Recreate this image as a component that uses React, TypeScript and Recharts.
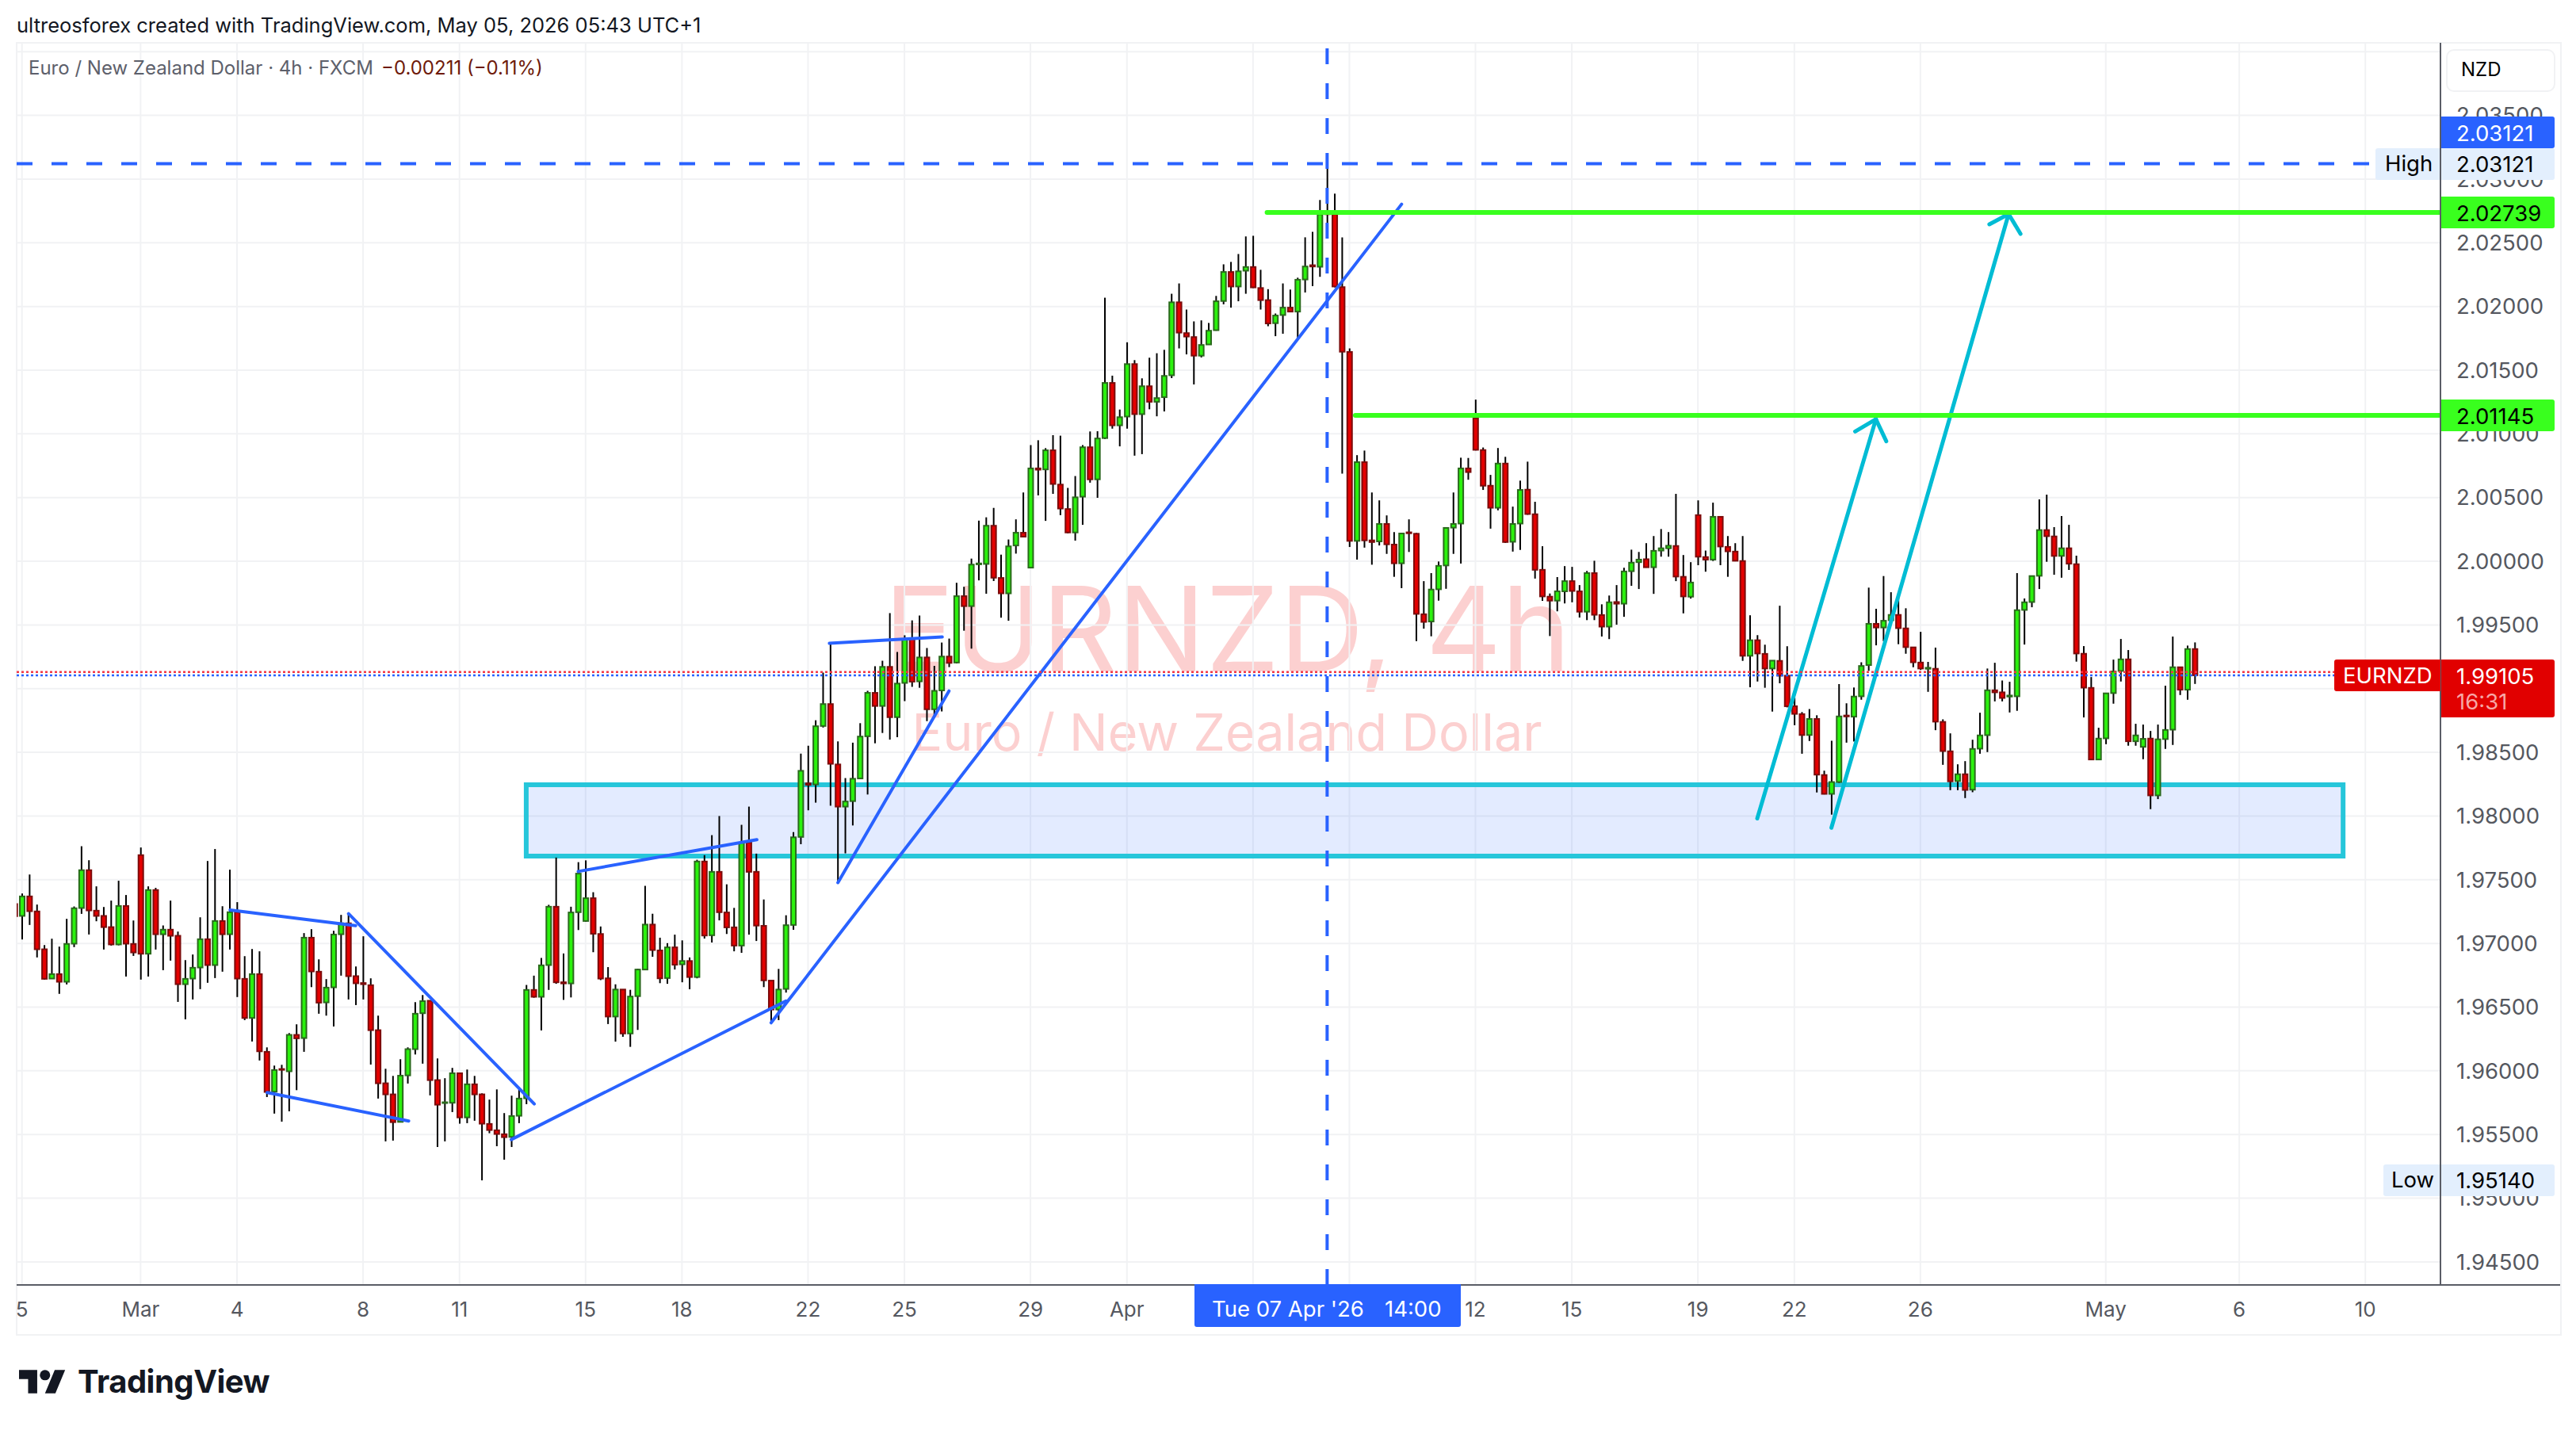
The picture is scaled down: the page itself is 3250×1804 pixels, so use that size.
import React from 'react';
import {
  BarChart,
  Bar,
  XAxis,
  YAxis,
  CartesianGrid,
  ReferenceLine,
  ReferenceArea,
} from 'recharts';

// EURNZD 4h candles
const opens = [
  1.97309,1.97216,1.97369,1.97251,1.96954,1.96724,1.96759,1.96699,1.96998,1.97278,
  1.97575,1.97257,1.97216,1.97128,1.96992,1.97294,1.96996,1.97693,1.96919,1.97419,
  1.97072,1.97108,1.97060,1.96680,1.96724,1.96811,1.97033,1.96830,1.97176,1.97072,
  1.97245,1.96722,1.96415,1.96759,1.96149,1.95836,1.96014,1.95996,1.96282,1.96257,
  1.97045,1.96778,1.96537,1.96655,1.97072,1.97158,1.96743,1.96689,1.96672,1.96319,
  1.95902,1.95815,1.95599,1.95964,1.96170,1.96452,1.96550,1.95927,1.95747,1.95749,
  1.95981,1.95634,1.95894,1.95815,1.95583,1.95533,1.95502,1.95481,1.95647,1.95784,
  1.96635,1.96581,1.96830,1.97288,1.96695,1.96686,1.97245,1.97176,1.97355,1.97074,
  1.96726,1.96426,1.96638,1.96293,1.96586,1.96795,1.97148,1.96945,1.96728,1.96969,
  1.96836,1.96862,1.96736,1.97643,1.97064,1.97562,1.97243,1.97126,1.96983,1.97793,
  1.97562,1.97138,1.96708,1.96481,1.96643,1.97145,1.97836,1.98257,1.98248,1.98707,
  1.98879,1.98405,1.98074,1.98117,1.98295,1.98626,1.98967,1.98864,1.99171,1.98776,
  1.99045,1.99390,1.99057,1.99245,1.98838,1.98986,1.99252,1.99205,1.99726,1.99648,
  1.99976,1.99979,2.00279,1.99869,1.99748,2.00124,2.00224,1.99950,2.00729,2.00721,
  2.00871,2.00602,2.00410,2.00226,2.00507,2.00895,2.00643,2.00967,2.01400,2.01067,
  2.01136,2.01548,2.01155,2.01374,2.01252,2.01288,2.01460,2.02033,2.01791,2.01760,
  2.01614,2.01702,2.01814,2.02043,2.02271,2.02157,2.02281,2.02310,2.02145,2.02050,
  2.01869,2.01933,2.01991,2.01960,2.02212,2.02324,2.02312,2.02733,2.02724,2.02152,
  2.01643,2.00160,2.00778,2.00164,2.00156,2.00293,2.00131,1.99984,2.00227,2.00216,
  1.99584,1.99527,1.99780,1.99967,2.00264,2.00296,2.00729,2.01122,2.00873,2.00593,
  2.00420,2.00767,2.00153,2.00296,2.00562,2.00369,1.99933,1.99722,1.99691,1.99764,
  1.99844,1.99764,1.99604,1.99907,1.99578,1.99487,1.99680,1.99667,1.99922,1.99993,
  2.00016,1.99953,2.00084,2.00102,2.00120,1.99878,1.99722,2.00362,2.00033,2.00013,
  2.00349,2.00113,2.00076,2.00002,1.99258,1.99380,1.99273,1.99158,1.99218,1.99102,
  1.98862,1.98800,1.98636,1.98762,1.98322,1.98174,1.98267,1.98789,1.98780,1.98940,
  1.99185,1.99509,1.99480,1.99537,1.99579,1.99473,1.99324,1.99205,1.99156,1.99156,
  1.98739,1.98508,1.98274,1.98328,1.98207,1.98529,1.98635,1.98987,1.98971,1.98938,
  1.98940,1.99618,1.99680,1.99886,2.00245,2.00195,2.00042,2.00102,1.99977,1.99274,
  1.99006,1.98444,1.98610,1.98965,1.99139,1.99230,1.98587,1.98543,1.98608,1.98162,
  1.98604,1.98678,1.99168,1.98992,1.99311,
];
const highs = [
  1.97350,1.97392,1.97541,1.97305,1.96987,1.97037,1.96975,1.97193,1.97290,1.97763,
  1.97653,1.97448,1.97286,1.97336,1.97492,1.97380,1.97180,1.97753,1.97448,1.97436,
  1.97141,1.97336,1.97093,1.96869,1.96913,1.97205,1.97647,1.97741,1.97292,1.97579,
  1.97324,1.96900,1.96956,1.96938,1.96184,1.96041,1.96047,1.96296,1.96365,1.97081,
  1.97112,1.96875,1.96720,1.97099,1.97224,1.97234,1.96819,1.97056,1.96726,1.96433,
  1.96016,1.95960,1.96091,1.96184,1.96539,1.96595,1.96550,1.96097,1.95942,1.96023,
  1.95983,1.96010,1.95960,1.95823,1.95774,1.95854,1.95668,1.95805,1.95873,1.96674,
  1.96747,1.96886,1.97303,1.97674,1.96921,1.97288,1.97638,1.97652,1.97402,1.97133,
  1.96814,1.96679,1.96640,1.96636,1.96802,1.97452,1.97233,1.97045,1.97002,1.97069,
  1.97024,1.96890,1.97657,1.97693,1.97850,1.98000,1.97464,1.97279,1.97931,1.98074,
  1.97705,1.97345,1.96708,1.96800,1.97221,1.97874,1.98490,1.98552,1.98752,1.99126,
  1.99352,1.98586,1.98298,1.98576,1.98729,1.98983,1.99176,1.99219,1.99593,1.99288,
  1.99419,1.99536,1.99574,1.99319,1.99179,1.99362,1.99393,1.99831,1.99800,2.00021,
  2.00319,2.00345,2.00419,2.00052,2.00171,2.00329,2.00540,2.00912,2.00950,2.00888,
  2.00990,2.00986,2.00576,2.00669,2.00912,2.01019,2.01021,2.02069,2.01457,2.01191,
  2.01719,2.01579,2.01436,2.01598,2.01633,2.01660,2.02100,2.02181,2.01976,2.01883,
  2.01891,2.01871,2.02083,2.02331,2.02350,2.02412,2.02550,2.02555,2.02288,2.02136,
  2.01945,2.02181,2.02133,2.02226,2.02543,2.02586,2.02836,2.03121,2.02886,2.02543,
  2.01671,2.00833,2.00869,2.00540,2.00478,2.00360,2.00229,2.00220,2.00329,2.00222,
  1.99844,1.99907,1.99998,2.00264,2.00540,2.00813,2.00811,2.01269,2.00893,2.00678,
  2.00889,2.00820,2.00429,2.00633,2.00782,2.00467,2.00118,1.99747,1.99876,1.99962,
  1.99956,1.99813,1.99924,2.00004,1.99662,1.99731,1.99813,1.99949,2.00091,2.00073,
  2.00142,2.00198,2.00253,2.00229,2.00529,2.00049,1.99993,2.00478,2.00084,2.00460,
  2.00351,2.00198,2.00142,2.00198,1.99576,1.99420,1.99345,1.99222,1.99651,1.99333,
  1.98929,1.98816,1.98840,1.98791,1.98356,1.98591,1.99036,1.98885,1.99009,1.99207,
  1.99793,1.99627,1.99884,1.99757,1.99712,1.99631,1.99324,1.99446,1.99210,1.99322,
  1.98759,1.98649,1.98406,1.98431,1.98599,1.98811,1.99158,1.99203,1.99064,1.99054,
  1.99907,1.99708,1.99884,2.00486,2.00523,2.00268,2.00355,2.00286,2.00044,1.99334,
  1.99091,1.98693,1.98965,1.99228,1.99390,1.99303,1.98724,1.98718,1.98668,1.98718,
  1.99023,1.99409,1.99168,1.99338,1.99363,
];
const lows = [
  1.97180,1.97031,1.97145,1.96890,1.96716,1.96722,1.96604,1.96678,1.96971,1.97232,
  1.97070,1.97174,1.96952,1.96983,1.96985,1.96740,1.96902,1.96716,1.96740,1.96952,
  1.96790,1.96865,1.96541,1.96404,1.96560,1.96641,1.96691,1.96728,1.96778,1.96952,
  1.96579,1.96398,1.96230,1.96081,1.95794,1.95664,1.95601,1.95682,1.95848,1.96149,
  1.96657,1.96448,1.96433,1.96348,1.96747,1.96560,1.96516,1.96560,1.96049,1.95782,
  1.95446,1.95452,1.95595,1.95900,1.96128,1.96056,1.95807,1.95402,1.95446,1.95676,
  1.95585,1.95589,1.95608,1.95140,1.95510,1.95408,1.95302,1.95402,1.95589,1.95738,
  1.96574,1.96317,1.96635,1.96683,1.96557,1.96576,1.97105,1.97170,1.96931,1.96712,
  1.96367,1.96229,1.96267,1.96188,1.96321,1.96790,1.96895,1.96688,1.96683,1.96795,
  1.96695,1.96640,1.96726,1.97038,1.97007,1.97181,1.97074,1.96938,1.96926,1.97069,
  1.97019,1.96657,1.96379,1.96398,1.96614,1.97107,1.97779,1.98045,1.98105,1.98695,
  1.98081,1.97474,1.97707,1.97926,1.98290,1.98169,1.98571,1.98652,1.98600,1.98619,
  1.98902,1.99014,1.99007,1.98745,1.98790,1.98821,1.99169,1.99198,1.99455,1.99314,
  1.99850,1.99745,1.99845,1.99557,1.99533,2.00060,2.00190,1.99945,2.00517,2.00317,
  2.00529,2.00362,2.00220,2.00162,2.00286,2.00617,2.00498,2.00960,2.01041,2.00902,
  2.01041,2.00829,2.00841,2.01193,2.01138,2.01176,2.01438,2.01671,2.01624,2.01388,
  2.01600,2.01700,2.01810,2.02017,2.01991,2.02041,2.02100,2.02145,2.01976,2.01845,
  2.01767,2.01786,2.01955,2.01741,2.02110,2.02160,2.02233,2.02657,2.02150,2.00688,
  2.00112,2.00013,2.00107,1.99973,2.00124,2.00058,1.99878,1.99789,2.00073,1.99373,
  1.99471,1.99411,1.99691,1.99784,2.00058,1.99982,2.00640,2.00870,2.00560,2.00256,
  2.00400,2.00144,2.00076,2.00089,2.00365,1.99864,1.99689,1.99413,1.99607,1.99669,
  1.99678,1.99558,1.99538,1.99538,1.99409,1.99389,1.99502,1.99564,1.99807,1.99782,
  1.99950,1.99744,2.00036,2.00036,1.99844,1.99591,1.99707,1.99969,1.99918,2.00002,
  1.99969,1.99878,2.00000,1.99218,1.99011,1.99056,1.99007,1.98820,1.99042,1.98853,
  1.98713,1.98489,1.98589,1.98185,1.98170,1.98011,1.98260,1.98576,1.98585,1.98913,
  1.99140,1.99340,1.99373,1.99508,1.99349,1.99274,1.99168,1.99147,1.98975,1.98674,
  1.98402,1.98203,1.98203,1.98141,1.98187,1.98489,1.98502,1.98900,1.98900,1.98813,
  1.98826,1.99346,1.99639,1.99782,1.99996,1.99894,1.99871,1.99932,1.99212,1.98774,
  1.98440,1.98440,1.98564,1.98882,1.99056,1.98552,1.98552,1.98446,1.98054,1.98133,
  1.98527,1.98558,1.98950,1.98913,1.99037,
];
const closes = [
  1.97214,1.97369,1.97253,1.96954,1.96722,1.96759,1.96699,1.96996,1.97276,1.97575,
  1.97259,1.97216,1.97128,1.96992,1.97294,1.96998,1.96929,1.96919,1.97419,1.97072,
  1.97108,1.97060,1.96680,1.96722,1.96809,1.97033,1.96830,1.97176,1.97072,1.97245,
  1.96724,1.96415,1.96759,1.96153,1.95834,1.96006,1.96008,1.96282,1.96255,1.97045,
  1.96780,1.96535,1.96653,1.97070,1.97158,1.96743,1.96687,1.96680,1.96319,1.95902,
  1.95815,1.95597,1.95962,1.96170,1.96448,1.96547,1.95927,1.95734,1.95753,1.95981,
  1.95634,1.95894,1.95815,1.95585,1.95535,1.95504,1.95479,1.95645,1.95782,1.96635,
  1.96581,1.96828,1.97288,1.96695,1.96686,1.97243,1.97548,1.97355,1.97076,1.96724,
  1.96426,1.96638,1.96293,1.96583,1.96795,1.97148,1.96948,1.96726,1.96969,1.96833,
  1.96862,1.96736,1.97643,1.97062,1.97562,1.97245,1.97126,1.96983,1.97790,1.97562,
  1.97140,1.96710,1.96481,1.96638,1.97143,1.97833,1.98355,1.98245,1.98705,1.98879,
  1.98410,1.98074,1.98114,1.98293,1.98624,1.98967,1.98864,1.99171,1.98776,1.99040,
  1.99388,1.99055,1.99245,1.98838,1.98983,1.99252,1.99202,1.99726,1.99648,1.99974,
  1.99983,2.00279,1.99871,1.99748,2.00117,2.00224,2.00193,2.00729,2.00719,2.00871,
  2.00607,2.00414,2.00226,2.00502,2.00895,2.00643,2.00964,2.01400,2.01067,2.01131,
  2.01548,2.01155,2.01374,2.01252,2.01281,2.01455,2.02033,2.01795,2.01764,2.01614,
  2.01698,2.01810,2.02041,2.02271,2.02157,2.02276,2.02310,2.02150,2.02050,2.01867,
  2.01929,2.01991,2.01960,2.02210,2.02314,2.02314,2.02724,2.02724,2.02157,2.01645,
  2.00160,2.00778,2.00164,2.00151,2.00293,2.00133,1.99984,2.00218,2.00220,1.99587,
  1.99524,1.99778,1.99964,2.00262,2.00293,2.00729,2.00700,2.00875,2.00593,2.00420,
  2.00767,2.00151,2.00293,2.00560,2.00371,1.99933,1.99724,1.99691,1.99764,1.99844,
  1.99767,1.99604,1.99907,1.99580,1.99487,1.99678,1.99667,1.99920,1.99989,2.00013,
  1.99953,2.00082,2.00102,2.00122,1.99880,1.99724,1.99833,2.00036,2.00013,2.00349,
  2.00116,2.00078,2.00004,1.99258,1.99380,1.99276,1.99158,1.99220,1.99102,1.98862,
  1.98802,1.98636,1.98762,1.98325,1.98174,1.98267,1.98782,1.98782,1.98938,1.99178,
  1.99509,1.99480,1.99533,1.99579,1.99475,1.99326,1.99207,1.99158,1.99164,1.98741,
  1.98510,1.98272,1.98328,1.98205,1.98527,1.98633,1.98987,1.98971,1.98927,1.98946,
  1.99616,1.99678,1.99884,2.00245,2.00197,2.00042,2.00102,1.99981,1.99276,1.99008,
  1.98444,1.98608,1.98963,1.99135,1.99230,1.98587,1.98633,1.98606,1.98162,1.98602,
  1.98676,1.99168,1.98992,1.99311,1.99105,
];

// date ticks sit on bar numbers; two of them are covered by the crosshair label
const xTickBars = [1, 17, 30, 47, 60, 77, 90, 107, 120, 137, 150, 167, 180, 197, 210, 227, 240, 257, 282, 300, 317];
const xTickLabels = ['5', 'Mar', '4', '8', '11', '15', '18', '22', '25', '29', 'Apr', '', '', '12', '15', '19', '22', '26', 'May', '6', '10'];
const priceTicks = [
  1.945, 1.95, 1.955, 1.96, 1.965, 1.97, 1.975, 1.98, 1.985, 1.99, 1.995, 2.0, 2.005, 2.01, 2.015, 2.02, 2.025, 2.03, 2.035, 2.04,
];

// drawings as [bar, price, bar, price]
const blueLines = [
  [29.06, 1.97263, 46.0, 1.9714],
  [45.04, 1.97233, 70.08, 1.9574],
  [34.06, 1.9583, 53.15, 1.95606],
  [66.98, 1.9546, 104.02, 1.96548],
  [102.02, 1.96377, 187.04, 2.02803],
  [111.03, 1.97477, 126.01, 1.98982],
  [109.88, 1.99356, 125.1, 1.99406],
  [76.01, 1.97565, 100.1, 1.97815],
];
const arrowLines = [
  [235, 1.97981, 251, 2.01115],
  [248.2, 2.01019, 251, 2.01115],
  [252.4, 2.00942, 251, 2.01115],
  [245, 1.97908, 268.9, 2.02726],
  [266.3, 2.02645, 268.9, 2.02726],
  [270.5, 2.0257, 268.9, 2.02726],
];
const greenLines = [
  [168.9, 2.02739, 327.13, 2.02739],
  [180.8, 2.01145, 327.13, 2.01145],
];
const zone = { x1: 69, x2: 314, y1: 1.97686, y2: 1.98246 };

const candles = opens.map((open, i) => ({
  bar: i,
  open,
  high: highs[i],
  low: lows[i],
  close: closes[i],
  range: [lows[i], highs[i]],
}));

const font = 'Inter, sans-serif';
const BLUE = '#2962ff';

function Candle(props: any) {
  const { x, y, width, height, payload } = props;
  const { open, close, high, low } = payload;
  const perUnit = height / (high - low);
  const cx = x + width / 2;
  const top = y + (high - Math.max(open, close)) * perUnit;
  const bottom = y + (high - Math.min(open, close)) * perUnit;
  const up = close >= open;
  return (
    <g>
      <line x1={cx} x2={cx} y1={y} y2={y + height} stroke="#000" strokeWidth={2} />
      <rect
        x={cx - 3}
        y={top}
        width={6}
        height={Math.max(bottom - top, 1)}
        fill={up ? '#2bf20d' : '#e40000'}
        stroke={up ? '#2a6a1c' : '#7c0b0b'}
        strokeWidth={2}
      />
    </g>
  );
}

function Seg(pts: number[], key: string, stroke: string, width: number) {
  return (
    <ReferenceLine
      key={key}
      segment={[
        { x: pts[0], y: pts[1] },
        { x: pts[2], y: pts[3] },
      ]}
      stroke={stroke}
      strokeWidth={width}
      strokeLinecap="round"
    />
  );
}

function Tag(props: any) {
  const { left, top, width, height = 40, bg, color = '#000', children, radius = 3 } = props;
  return (
    <div
      style={{
        position: 'absolute',
        left,
        top,
        width,
        height,
        background: bg,
        color,
        borderRadius: `0 ${radius}px ${radius}px 0`,
      }}
    >
      {children}
    </div>
  );
}

function Txt(props: any) {
  const { left, top, color = '#000', size = 27.5, children, style } = props;
  return (
    <span
      style={{
        position: 'absolute',
        left,
        top,
        color,
        fontSize: size,
        lineHeight: '40px',
        whiteSpace: 'nowrap',
        fontFamily: font,
        ...style,
      }}
    >
      {children}
    </span>
  );
}

export default function App() {
  return (
    <div style={{ position: 'absolute', left: 0, top: 0, width: 3250, height: 1804, background: '#fff', overflow: 'hidden', fontFamily: font }}>
      <Txt left={21} top={12} size={25.5} color="#131722">
        ultreosforex created with TradingView.com, May 05, 2026 05:43 UTC+1
      </Txt>

      {/* frame and watermark stay under the chart */}
      <div style={{ position: 'absolute', left: 20, top: 53, width: 3208, height: 1628, border: '2px solid #f1f2f4' }} />
      <div style={{ position: 'absolute', left: 0, width: 3097, top: 714, textAlign: 'center', fontSize: 148, lineHeight: '160px', color: '#fcd0d0', whiteSpace: 'nowrap' }}>
        EURNZD, 4h
      </div>
      <div style={{ position: 'absolute', left: 0, width: 3096, top: 884, textAlign: 'center', fontSize: 64.6, lineHeight: '80px', color: '#fcd0d0', whiteSpace: 'nowrap' }}>
        Euro / New Zealand Dollar
      </div>

      <div style={{ position: 'absolute', left: 0, top: 0 }}>
        <BarChart
          width={3250}
          height={1804}
          data={candles}
          barSize={8}
          margin={{ top: 54, right: 20, bottom: 121, left: 21 }}
        >
          <CartesianGrid stroke="#f1f2f4" strokeWidth={2} />
          <XAxis
            dataKey="bar"
            type="number"
            domain={[0.284, 327.13]}
            allowDataOverflow
            ticks={xTickBars}
            interval={0}
            height={62}
            tickLine={false}
            tickSize={0}
            tickMargin={22}
            axisLine={{ stroke: '#5a5d66', strokeWidth: 2 }}
            tick={{ fill: '#555860', fontSize: 26, fontFamily: font }}
            tickFormatter={(v: number) => xTickLabels[xTickBars.indexOf(v)] ?? ''}
          />
          <YAxis
            orientation="right"
            type="number"
            domain={[1.94319, 2.0407]}
            allowDataOverflow
            ticks={priceTicks}
            interval={0}
            width={151}
            tickLine={false}
            tickSize={0}
            tickMargin={20}
            axisLine={{ stroke: '#5a5d66', strokeWidth: 2 }}
            tick={{ fill: '#555860', fontSize: 27.5, fontFamily: font, textAnchor: 'start' }}
            tickFormatter={(v: number) => (v > 2.039 ? '' : v.toFixed(5))}
          />

          <ReferenceArea
            x1={zone.x1}
            x2={zone.x2}
            y1={zone.y1}
            y2={zone.y2}
            fill="#2962ff"
            fillOpacity={0.13}
            stroke="#26c6da"
            strokeWidth={6}
          />
          {blueLines.map((l, i) => Seg(l, `b${i}`, BLUE, 4))}
          {arrowLines.map((l, i) => Seg(l, `a${i}`, '#00bcd4', 5))}
          {greenLines.map((l, i) => Seg(l, `g${i}`, '#39ff1e', 6))}
          <ReferenceLine
            segment={[
              { x: 0.284, y: 2.03121 },
              { x: 318.4, y: 2.03121 },
            ]}
            stroke={BLUE}
            strokeWidth={4}
            strokeDasharray="20 24"
          />
          <ReferenceLine x={177} stroke={BLUE} strokeWidth={4} strokeDasharray="20 24" />
          <ReferenceLine
            segment={[
              { x: 0.284, y: 1.9913 },
              { x: 312.8, y: 1.9913 },
            ]}
            stroke="#f23645"
            strokeWidth={2.5}
            strokeDasharray="3 3"
          />
          <ReferenceLine
            segment={[
              { x: 0.284, y: 1.99105 },
              { x: 312.8, y: 1.99105 },
            ]}
            stroke={BLUE}
            strokeWidth={2.5}
            strokeDasharray="3 3"
          />

          <Bar dataKey="range" shape={<Candle />} isAnimationActive={false} />
        </BarChart>
      </div>

      {/* axis lines carry on past the plot */}
      <div style={{ position: 'absolute', left: 3079, top: 1620, width: 151, height: 2, background: '#5a5d66' }} />

      <Txt left={36} top={66} size={24} color="#5d606b">
        Euro / New Zealand Dollar · 4h · FXCM
      </Txt>
      <Txt left={481} top={66} size={24} color="#6e1a0a">
        −0.00211 (−0.11%)
      </Txt>

      <div style={{ position: 'absolute', left: 3086, top: 62, width: 134, height: 50, border: '2px solid #f1f2f4', borderRadius: 10, background: '#fff' }} />
      <Txt left={3105} top={68} size={24}>NZD</Txt>

      <Tag left={3080} top={147} width={143} bg={BLUE} />
      <Txt left={3099} top={148} color="#fff">2.03121</Txt>
      <div style={{ position: 'absolute', left: 2997, top: 187, width: 226, height: 40, background: '#e3effd', borderRadius: 3 }} />
      <Txt left={3009} top={186}>High</Txt>
      <Txt left={3099} top={187}>2.03121</Txt>
      <Tag left={3080} top={248} width={143} bg="#39ff1e" />
      <Txt left={3099} top={249}>2.02739</Txt>
      <Tag left={3080} top={504} width={143} bg="#39ff1e" />
      <Txt left={3099} top={505}>2.01145</Txt>

      <div style={{ position: 'absolute', left: 2945, top: 832, width: 134, height: 40, background: '#e10000', borderRadius: '3px 0 0 3px' }} />
      <Tag left={3080} top={832} width={143} height={73} bg="#e10000" />
      <Txt left={2956} top={832} color="#fff">EURNZD</Txt>
      <Txt left={3099} top={833} color="#fff">1.99105</Txt>
      <Txt left={3099} top={865} color="#f7a6a6">16:31</Txt>

      <div style={{ position: 'absolute', left: 3007, top: 1469, width: 216, height: 40, background: '#e3effd', borderRadius: 3 }} />
      <Txt left={3017} top={1468}>Low</Txt>
      <Txt left={3099} top={1469}>1.95140</Txt>
      <div style={{ position: 'absolute', left: 3078, top: 1469, width: 2, height: 40, background: '#5a5d66' }} />
      <div style={{ position: 'absolute', left: 3078, top: 187, width: 2, height: 40, background: '#5a5d66' }} />

      <div style={{ position: 'absolute', left: 1507, top: 1620, width: 336, height: 54, background: BLUE, borderRadius: '0 0 3px 3px' }} />
      <Txt left={1529} top={1631} color="#fff">Tue 07 Apr '26</Txt>
      <Txt left={1747} top={1631} color="#fff">14:00</Txt>

      {/* logo */}
      <svg style={{ position: 'absolute', left: 24, top: 1728 }} width={59} height={30} viewBox="0 4 36 18">
        <path d="M14 22H7V11H0V4h14v18zM28 22h-8l7.5-18h8L28 22z" fill="#131722" />
        <circle cx={20} cy={8} r={4} fill="#131722" />
      </svg>
      <Txt left={98} top={1723} size={40} color="#131722" style={{ fontWeight: 700, letterSpacing: -0.5 }}>
        TradingView
      </Txt>
    </div>
  );
}
